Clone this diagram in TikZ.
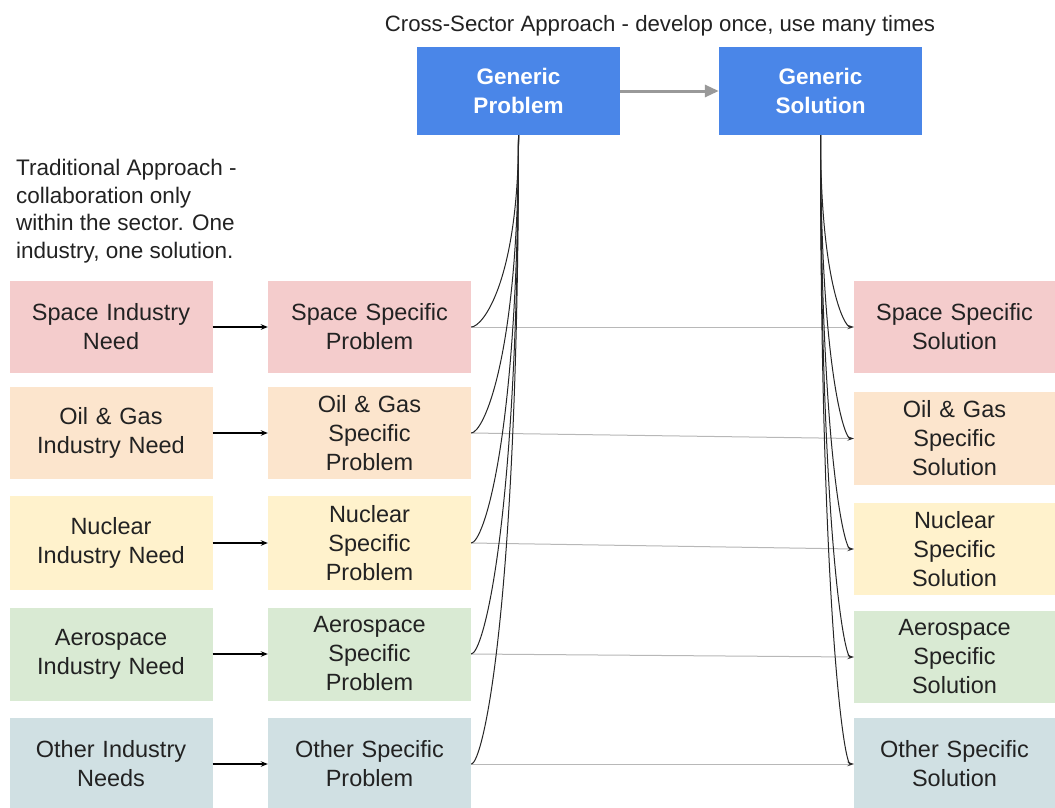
\documentclass[tikz,border=0pt]{standalone}
\usepackage{fontspec}
\setmainfont{Liberation Sans}
\usetikzlibrary{arrows.meta,calc}
\definecolor{gblue}{HTML}{4A86E8}
\definecolor{cpink}{HTML}{F4CCCC}
\definecolor{corange}{HTML}{FCE5CD}
\definecolor{cyellow}{HTML}{FFF2CC}
\definecolor{cgreen}{HTML}{D9EAD3}
\definecolor{cgray}{HTML}{D0E0E3}
\definecolor{txt}{HTML}{222222}
\definecolor{garrow}{HTML}{999999}
\begin{document}
\begin{tikzpicture}[x=1pt,y=-1pt,
  box/.style={rectangle,inner sep=0pt,minimum width=203pt,text width=196pt,align=center,text=txt,font=\fontsize{23.5}{29}\selectfont},
  gbox/.style={rectangle,fill=gblue,inner sep=0pt,minimum width=203pt,minimum height=88pt,text width=196pt,align=center,text=white,font=\fontsize{22.5}{29}\selectfont\bfseries},
  blk/.style={-{Stealth[length=7pt,width=5.5pt]},line width=1.3pt,black},
  gry/.style={-{Stealth[length=7pt,width=5pt]},line width=1pt,garrow!70},
  crv/.style={line width=1pt,black!85},
  crva/.style={-{Stealth[length=6pt,width=4pt]},line width=1pt,black!85}]
\useasboundingbox (0,0) rectangle (1055,808);
\fill[white] (0,0) rectangle (1055,808);
\begin{scope}
\clip (0,0) rectangle (1055,808);
% title
\node[text=txt,font=\fontsize{22.2}{26}\selectfont] (title) at (660,26) {Cross-Sector Approach - develop once, use many times};
\node[anchor=north west,text=txt,align=left,font=\fontsize{22.5}{27.7}\selectfont,inner sep=0pt] (trad) at (16,159) {Traditional Approach -\\collaboration only\\within the sector. One\\industry, one solution.};
% generic
\node[gbox] (gp) at (518.5,91) {Generic\\Problem};
\node[gbox] (gs) at (820.5,91) {Generic\\Solution};
\draw[-{Triangle[length=14pt,width=12pt]},line width=3pt,garrow] (gp.east) -- (gs.west);
% left column
\node[box,fill=cpink,minimum height=92pt] (n1) at (111,327) {Space Industry\\Need};
\node[box,fill=corange,minimum height=92pt] (n2) at (111,433) {Oil \& Gas\\Industry Need};
\node[box,fill=cyellow,minimum height=94pt] (n3) at (111,543) {Nuclear\\Industry Need};
\node[box,fill=cgreen,minimum height=93pt] (n4) at (111,654) {Aerospace\\Industry Need};
\node[box,fill=cgray,minimum height=92pt] (n5) at (111,764) {Other Industry\\Needs};
% middle column
\node[box,fill=cpink,minimum height=92pt] (p1) at (369.5,327) {Space Specific\\Problem};
\node[box,fill=corange,minimum height=92pt] (p2) at (369.5,433) {Oil \& Gas\\Specific\\Problem};
\node[box,fill=cyellow,minimum height=94pt] (p3) at (369.5,543) {Nuclear\\Specific\\Problem};
\node[box,fill=cgreen,minimum height=93pt] (p4) at (369.5,654) {Aerospace\\Specific\\Problem};
\node[box,fill=cgray,minimum height=92pt] (p5) at (369.5,764) {Other Specific\\Problem};
% right column
\node[box,fill=cpink,minimum height=92pt,minimum width=201pt] (s1) at (954.5,327) {Space Specific\\Solution};
\node[box,fill=corange,minimum height=93pt,minimum width=201pt] (s2) at (954.5,438.5) {Oil \& Gas\\Specific\\Solution};
\node[box,fill=cyellow,minimum height=92pt,minimum width=201pt] (s3) at (954.5,549) {Nuclear\\Specific\\Solution};
\node[box,fill=cgreen,minimum height=92pt,minimum width=201pt] (s4) at (954.5,657) {Aerospace\\Specific\\Solution};
\node[box,fill=cgray,minimum height=92pt,minimum width=201pt] (s5) at (954.5,764) {Other Specific\\Solution};
% need -> problem
\foreach \i in {1,...,5} {\draw[blk] (n\i.east) -- (p\i.west);}
% problem -> solution (gray)
\foreach \i in {1,...,5} {\draw[gry] (p\i.east) -- (s\i.west);}
% curves from generic problem
\foreach \i in {1,...,5} {
  \draw[crv] (gp.south) .. controls ($(gp.south)!0.75!(gp.south |- p\i.east)$) and ($(p\i.east)+(12,0)$) .. (p\i.east);
}
% curves from generic solution
\foreach \i in {1,...,5} {
  \draw[crva] (gs.south) .. controls ($(gs.south)!0.75!(gs.south |- s\i.west)$) and ($(s\i.west)+(-10,0)$) .. (s\i.west);
}
\end{scope}
\end{tikzpicture}
\end{document}
